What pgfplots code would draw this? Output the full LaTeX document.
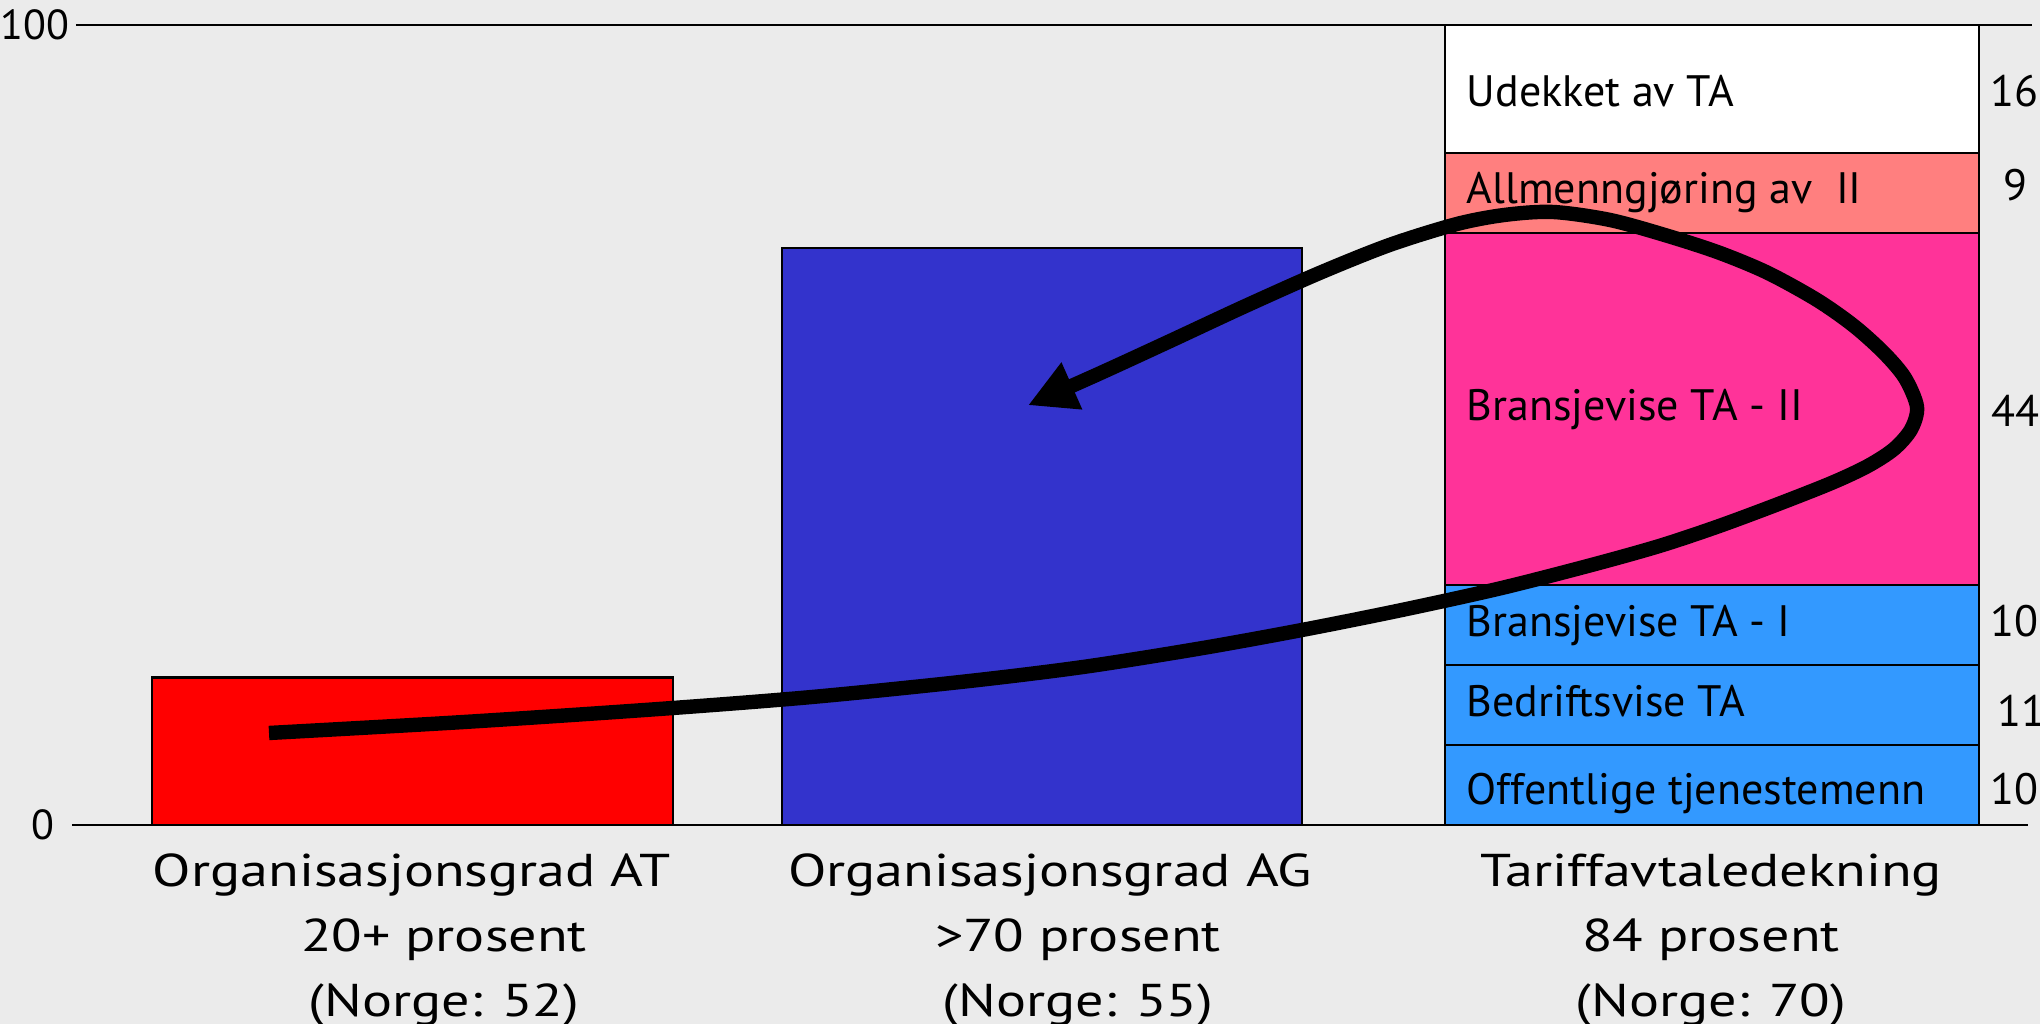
\documentclass[border=0pt]{standalone}
\usepackage{fontspec}
\setmainfont{PT Sans}
\newfontfamily\xlabfont[FakeStretch=1.22]{PT Sans}
\usepackage{pgfplots}
\pgfplotsset{compat=1.18}
\usetikzlibrary{arrows.meta}
\definecolor{bg}{HTML}{EBEBEB}
\definecolor{barred}{HTML}{FF0000}
\definecolor{barblue}{HTML}{3333CC}
\definecolor{pinkII}{HTML}{FF3399}
\definecolor{salmon}{HTML}{FF7F7F}
\definecolor{lblue}{HTML}{3399FF}
\begin{document}
\begin{tikzpicture}
\path[use as bounding box, fill=bg] (-18pt,-49.75pt) rectangle (492pt,206.25pt);
\begin{axis}[
  at={(0,0)}, anchor=south west,
  scale only axis, width=490pt, height=200pt,
  xmin=72, xmax=2032, ymin=0, ymax=100,
  axis line style={draw=none},
  major tick length=0pt,
  tick style={draw=none},
  clip=false,
  xtick={412,1050,1711},
  xticklabels={
    {Organisasjonsgrad AT\\\hspace*{16pt}20+ prosent\\\hspace*{16pt}(Norge: 52)},
    {Organisasjonsgrad AG\\\hspace*{14pt}>70 prosent\\\hspace*{14pt}(Norge: 55)},
    {Tariffavtaledekning\\84 prosent\\(Norge: 70)}},
  xticklabel style={font=\xlabfont\fontsize{11.5}{16.25}\selectfont, align=center, anchor=north, inner sep=0pt, yshift=-7pt},
  ytick={0,100},
  yticklabels={0\hspace*{3.75pt},100},
  yticklabel style={font=\fontsize{10.5}{12}\selectfont, anchor=east, inner sep=0pt, xshift=-0.5pt},
  bar shift=0pt,
]
% reference lines
\addplot[black, line width=0.7pt] coordinates {(76,100) (2032,100)};
\addplot[black, line width=0.7pt] coordinates {(72,0) (2028,0)};
% single bars
\addplot[ybar, bar width=521, bar shift=0pt, fill=barred, draw=black, line width=0.65pt] coordinates {(412.5,18.4)};
\addplot[ybar, bar width=520, bar shift=0pt, fill=barblue, draw=black, line width=0.65pt] coordinates {(1042,72.1)};
% stacked bar (drawn as cumulative heights, top first)
\addplot[ybar, bar width=534, bar shift=0pt, fill=white, draw=black, line width=0.65pt] coordinates {(1712,100)};
\addplot[ybar, bar width=534, bar shift=0pt, fill=salmon, draw=black, line width=0.65pt] coordinates {(1712,84)};
\addplot[ybar, bar width=534, bar shift=0pt, fill=pinkII, draw=black, line width=0.65pt] coordinates {(1712,74)};
\addplot[ybar, bar width=534, bar shift=0pt, fill=lblue, draw=black, line width=0.65pt] coordinates {(1712,30)};
\addplot[ybar, bar width=534, bar shift=0pt, fill=lblue, draw=black, line width=0.65pt] coordinates {(1712,20)};
\addplot[ybar, bar width=534, bar shift=0pt, fill=lblue, draw=black, line width=0.65pt] coordinates {(1712,10)};
% segment labels
\begin{scope}[every node/.style={font=\fontsize{11}{13}\selectfont, inner sep=0pt, anchor=base west}]
\node at (axis cs:1466,89.75) {Udekket av TA};
\node at (axis cs:1466,77.7) {Allmenngjøring av\ \ II};
\node at (axis cs:1466,50.5) {Bransjevise TA - II};
\node at (axis cs:1466,23.6) {Bransjevise TA - I};
\node at (axis cs:1466,13.6) {Bedriftsvise TA};
\node at (axis cs:1466,2.5) {Offentlige tjenestemenn};
\node at (axis cs:1990,89.75) {16};
\node at (axis cs:2003,78.1) {9};
\node at (axis cs:1991,49.75) {44};
\node at (axis cs:1990,23.6) {10};
\node at (axis cs:1997,12.25) {11};
\node at (axis cs:1990,2.5) {10};
\end{scope}
% arrow
\addplot[black, line width=3.6pt, smooth, tension=0.5, -{Triangle[length=12pt 0, width=12pt 0]}] coordinates {
(269,11.5) (464,12.875) (659,14.5) (812,16.0) (965,17.9375) (1083,19.75)
(1200,22.0625) (1302,24.375) (1400,26.825) (1500,29.575) (1590,32.45)
(1659,34.8625) (1717,37.275) (1775,39.9625) (1832,42.775) (1868,44.8875)
(1894,47.0) (1911,49.4375) (1917,52.25)
(1905,55.875) (1884,59.0) (1854,62.375) (1817,65.625) (1768,69.0)
(1720,71.5) (1668,73.625) (1610,75.625) (1553,76.625) (1505,76.2625)
(1457,75.125) (1390,72.525) (1320,69.025) (1245,64.85) (1170,60.4875)
(1100,56.4625) (1028,52.4625)};
\end{axis}
\end{tikzpicture}
\end{document}
